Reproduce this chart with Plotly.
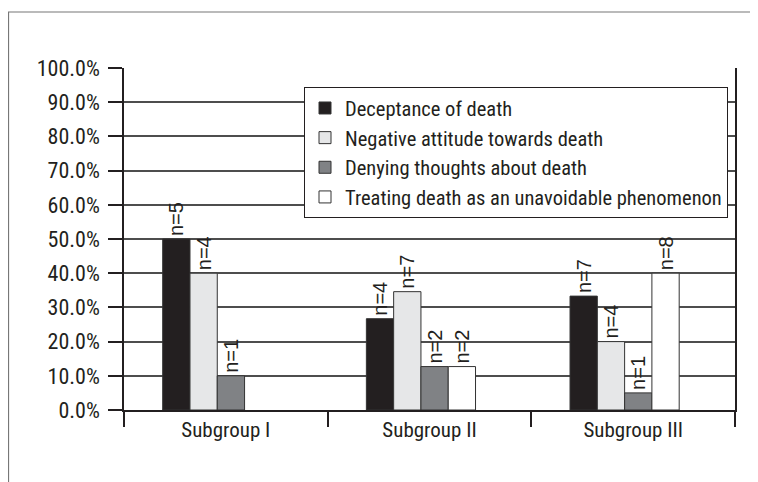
import plotly.graph_objects as go

categories = ["Subgroup I", "Subgroup II", "Subgroup III"]
series_names = [
    "Deceptance of death",
    "Negative attitude towards death",
    "Denying thoughts about death",
    "Treating death as an unavoidable phenomenon",
]
deceptance = [50.0, 26.7, 33.3]
negative = [40.0, 34.6, 20.0]
denying = [10.0, 12.7, 5.0]
treating = [None, 12.7, 40.0]

n_deceptance = ["n=5", "n=4", "n=7"]
n_negative = ["n=4", "n=7", "n=4"]
n_denying = ["n=1", "n=2", "n=1"]
n_treating = ["", "n=2", "n=8"]

y_tickvals = [0, 10, 20, 30, 40, 50, 60, 70, 80, 90, 100]
y_ticktext = ["0.0%", "10.0%", "20.0%", "30.0%", "40.0%", "50.0%",
              "60.0%", "70.0%", "80.0%", "90.0%", "100.0%"]

values = [deceptance, negative, denying, treating]
labels = [n_deceptance, n_negative, n_denying, n_treating]
colors = ["#231f20", "#e6e7e8", "#808285", "#ffffff"]
offsets = [-0.31, -0.176, -0.042, 0.092]
bar_w = 0.134

COND = "Roboto Condensed, Liberation Sans Narrow, sans-serif"

fig = go.Figure()
for name, vals, txt, col, off in zip(series_names, values, labels, colors, offsets):
    fig.add_trace(go.Bar(
        name=name, x=categories, y=vals, text=txt,
        marker=dict(color=col, line=dict(color="#333333", width=1)),
        width=bar_w, offset=off,
        textposition="outside", textangle=-90, constraintext="none",
        cliponaxis=False,
        textfont=dict(family="Liberation Sans, Arial, sans-serif", size=20, color="#231f20"),
    ))

fig.update_layout(
    width=758, height=482,
    margin=dict(l=116, r=31, t=60, b=80),
    barmode="overlay",
    plot_bgcolor="white", paper_bgcolor="white",
    font=dict(family=COND, size=20, color="#231f20"),
    showlegend=True,
    legend=dict(
        x=0.2946, y=0.944, xanchor="left", yanchor="top",
        bgcolor="white", bordercolor="#231f20", borderwidth=1,
        font=dict(family=COND, size=20.5, color="#231f20"),
        traceorder="normal", tracegroupgap=0, itemwidth=30,
    ),
    xaxis=dict(
        type="category", tickson="boundaries", ticks="outside", ticklen=15,
        tickcolor="#231f20", tickwidth=1.5,
        showline=True, linecolor="#231f20", linewidth=1.5,
        showgrid=False, tickfont=dict(family=COND, size=21),
    ),
    yaxis=dict(
        range=[0, 100], tickvals=y_tickvals, ticktext=y_ticktext,
        ticks="outside", ticklen=14, tickcolor="#231f20", tickwidth=1.5,
        showline=True, linecolor="#231f20", linewidth=1.5, mirror=True,
        showgrid=True, gridcolor="#4d4d4d", gridwidth=1.5,
        zeroline=False, tickfont=dict(family=COND, size=22),
        ticklabelstandoff=4,
    ),
)

fig.add_shape(type="rect", xref="paper", yref="paper",
              x0=-0.189, x1=1.1, y0=-0.3, y1=1.1637,
              line=dict(color="#777777", width=1.2), layer="below")

fig.write_html("out.html")
